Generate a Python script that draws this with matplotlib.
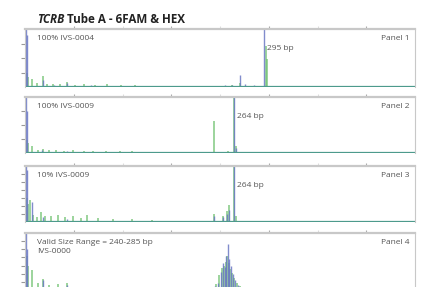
import matplotlib.pyplot as plt
import numpy as np

# size axis (bp) and y limits per panel
xlim = (50, 450)
ylims = [4000, 4000, 700, 700]

# peaks per panel: positions in bp and heights, 6FAM (blue) and HEX (green)
p1_blue_bp = [51, 52.5, 68, 80, 93, 118, 160, 200, 255, 262, 271, 276, 285, 295]
p1_blue_h = [4600, 3600, 500, 150, 250, 120, 100, 90, 150, 120, 850, 180, 150, 4600]
p1_green_bp = [52, 53.5, 57, 62, 68, 73, 79, 86, 93, 101, 110, 122, 134, 148, 163, 179, 196, 230, 262, 271, 297, 298.5]
p1_green_h = [1000, 700, 560, 300, 760, 200, 180, 220, 320, 160, 200, 130, 180, 110, 150, 100, 90, 80, 160, 300, 2800, 1900]

p2_blue_bp = [51, 52.5, 67, 93, 264, 266]
p2_blue_h = [4600, 3000, 250, 150, 4600, 350]
p2_green_bp = [52, 53.5, 57, 63, 68, 75, 82, 90, 99, 110, 120, 133, 147, 160, 178, 200, 244, 250, 258, 264, 266]
p2_green_h = [920, 700, 480, 200, 300, 180, 220, 160, 240, 150, 140, 130, 150, 110, 100, 90, 2280, 100, 120, 4600, 500]

p3_blue_bp = [51, 52.5, 57, 68, 93, 244, 253, 257, 259, 264]
p3_blue_h = [800, 650, 250, 60, 40, 80, 60, 100, 150, 800]
p3_green_bp = [52, 53.5, 55, 58, 62, 66, 71, 77, 84, 91, 99, 107, 114, 125, 140, 160, 180, 244, 253, 257, 259, 264, 266]
p3_green_h = [300, 220, 280, 90, 60, 120, 80, 70, 90, 60, 70, 50, 85, 45, 40, 35, 30, 100, 80, 140, 210, 800, 80]

p4_blue_bp = [51, 52.5, 68, 93, 245, 248, 251, 253, 255, 256.5, 258, 259.5, 261, 263, 265, 268, 271]
p4_blue_h = [700, 500, 120, 60, 50, 90, 220, 330, 280, 420, 560, 380, 300, 200, 120, 60, 40]
p4_green_bp = [52, 53.5, 57, 63, 68, 75, 84, 93, 102, 244, 246, 249, 252, 254, 256, 257.5, 259, 260.5, 262, 264, 267, 270]
p4_green_h = [420, 300, 250, 90, 140, 60, 70, 90, 40, 40, 70, 180, 270, 300, 350, 420, 330, 260, 210, 150, 80, 50]

labels_left = ["100% IVS-0004", "100% IVS-0009", "10% IVS-0009", "Valid Size Range = 240-285 bp\nIVS-0000"]
labels_right = ["Panel 1", "Panel 2", "Panel 3", "Panel 4"]
peak_labels = [(295, "295 bp"), (264, "264 bp"), (264, "264 bp"), None]

panels = [
    (p1_blue_bp, p1_blue_h, p1_green_bp, p1_green_h),
    (p2_blue_bp, p2_blue_h, p2_green_bp, p2_green_h),
    (p3_blue_bp, p3_blue_h, p3_green_bp, p3_green_h),
    (p4_blue_bp, p4_blue_h, p4_green_bp, p4_green_h),
]

plt.rcParams['font.family'] = ['Open Sans', 'DejaVu Sans']

fig = plt.figure(figsize=(4.21, 2.87), dpi=100)
W, H = 421, 287
# panel boxes in pixels: top, bottom
boxes = [(29, 87), (97, 153), (166, 222), (233, 290)]
blue = '#6b78c4'
green = '#6cc06c'

for i, (top, bot) in enumerate(boxes):
    ax = fig.add_axes([25 / W, (H - bot) / H, 390 / W, (bot - top) / H])
    bb, bh, gb, gh = panels[i]
    ax.vlines(gb, 0, gh, color=green, lw=1.1, alpha=0.85)
    ax.vlines(bb, 0, bh, color=blue, lw=1.0, alpha=0.85)
    ax.axhline(ylims[i] * 0.01, color='#4d9a8c', lw=0.9)
    ax.set_xlim(*xlim)
    ax.set_ylim(0, ylims[i])
    ax.set_xticks([100, 200, 300, 400])
    ax.set_xticks([150, 250, 350], minor=True)
    ax.xaxis.set_ticks_position('top')
    ax.tick_params(axis='x', which='both', direction='out', length=2, width=0.8,
                   color='#aaaaaa', labeltop=False, labelbottom=False)
    ax.tick_params(axis='x', which='minor', color='#dddddd')
    if ylims[i] == 4000:
        ax.set_yticks([1000, 2000, 3000])
    else:
        ax.set_yticks([100, 200, 300, 400, 500, 600])
    ax.tick_params(axis='y', direction='out', length=3, width=0.8, color='#999999', labelleft=False)
    for s in ax.spines.values():
        s.set_color('#c8c8c8')
        s.set_linewidth(0.8)
    ax.spines['top'].set_linewidth(1.6)
    ax.spines['bottom'].set_visible(False)
    ax.text(12 / 390, 0.89, labels_left[i], transform=ax.transAxes, fontsize=6,
            color='#555555', va='top', ha='left', linespacing=1.3)
    ax.text(0.985, 0.89, labels_right[i], transform=ax.transAxes, fontsize=6,
            color='#555555', va='top', ha='right')
    if peak_labels[i]:
        pos, txt = peak_labels[i]
        ax.text(pos + 3, ylims[i] * 0.66, txt, fontsize=6, color='#555555', va='center', ha='left')

# title: italic gene name followed by the tube name
t1 = fig.text(37 / W, 1 - 23 / H, "TCRB", fontsize=8.4, fontweight='bold', style='italic', color='#222222')
fig.canvas.draw()
bb = t1.get_window_extent()
fig.text(bb.x1 / W, 1 - 23 / H, " Tube A - 6FAM & HEX", fontsize=8.4, fontweight='bold', color='#222222')

plt.savefig("out.png", dpi=100)
